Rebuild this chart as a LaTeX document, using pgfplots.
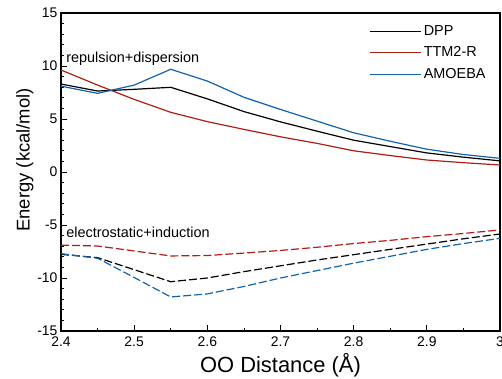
\documentclass[border=0pt]{standalone}
\usepackage{fontspec}
\setmainfont{Liberation Sans}
\usepackage{pgfplots}
\pgfplotsset{compat=1.18}
\definecolor{cred}{RGB}{175,30,20}
\definecolor{cblue}{RGB}{20,100,172}
\begin{document}
\begin{tikzpicture}
\begin{axis}[
  scale only axis,
  width=439bp, height=318bp,
  xmin=2.4, xmax=3.0, ymin=-15, ymax=15,
  xtick={2.4,2.5,2.6,2.7,2.8,2.9,3.0},
  xticklabels={2.4,2.5,2.6,2.7,2.8,2.9,3},
  ytick={-15,-10,-5,0,5,10,15},
  yticklabels={-15,-10,-5,0,5,10,15},
  minor x tick num=1, minor y tick num=4,
  tick align=inside, xtick pos=bottom, ytick pos=left,
  major tick length=6bp, minor tick length=3bp,
  axis line style={line width=1.1bp},
  every tick/.style={line width=0.8bp, black},
  tick label style={font=\fontsize{14}{16}\selectfont},
  xticklabel style={yshift=-2bp},
  /pgf/number format/assume math mode=true,
  xlabel={OO Distance (Å)},
  ylabel={Energy (kcal/mol)},
  xlabel style={font=\fontsize{22}{24}\selectfont},
  ylabel style={font=\fontsize{18.5}{20}\selectfont, at={(ticklabel cs:0.538)}, yshift=-3bp},
  legend style={draw=none, fill=none, at={(rel axis cs:0.703,0.968)}, anchor=north west,
    font=\fontsize{14.5}{16}\selectfont, inner sep=0pt, row sep=6bp},
  legend cell align=left,
  legend image code/.code={\draw[#1, line width=1bp] (0bp,0bp) -- (51bp,0bp);},
  every axis plot/.append style={line width=1.2bp},
]
% solid: repulsion + dispersion
\addplot[black] coordinates {(2.4,8.3) (2.45,7.64) (2.5,7.8) (2.55,7.99) (2.6,6.9) (2.65,5.7) (2.7,4.73) (2.75,3.85) (2.8,3.0) (2.85,2.4) (2.9,1.8) (2.95,1.4) (3.0,1.05)};
\addlegendentry{DPP}
\addplot[cred] coordinates {(2.4,9.62) (2.45,8.2) (2.5,6.85) (2.55,5.63) (2.6,4.75) (2.65,4.02) (2.7,3.32) (2.75,2.7) (2.8,2.0) (2.85,1.55) (2.9,1.13) (2.95,0.88) (3.0,0.66)};
\addlegendentry{TTM2-R}
\addplot[cblue] coordinates {(2.4,8.1) (2.45,7.42) (2.5,8.2) (2.55,9.69) (2.6,8.58) (2.65,7.05) (2.7,5.9) (2.75,4.8) (2.8,3.7) (2.85,2.9) (2.9,2.15) (2.95,1.65) (3.0,1.29)};
\addlegendentry{AMOEBA}
% dashed: electrostatic + induction
\addplot[black, dash pattern=on 8bp off 3bp, forget plot] coordinates {(2.4,-7.77) (2.45,-8.08) (2.55,-10.35) (2.6,-10.0) (2.65,-9.4) (2.7,-8.85) (2.75,-8.3) (2.8,-7.8) (2.85,-7.3) (2.9,-6.8) (2.95,-6.3) (3.0,-5.85)};
\addplot[cred, dash pattern=on 8bp off 3bp, forget plot] coordinates {(2.4,-6.9) (2.45,-6.98) (2.55,-7.92) (2.6,-7.88) (2.65,-7.65) (2.7,-7.4) (2.75,-7.1) (2.8,-6.75) (2.85,-6.45) (2.9,-6.1) (2.95,-5.8) (3.0,-5.47)};
\addplot[cblue, dash pattern=on 8bp off 3bp, forget plot] coordinates {(2.4,-7.7) (2.45,-8.14) (2.5,-9.95) (2.55,-11.79) (2.6,-11.5) (2.65,-10.8) (2.7,-10.0) (2.75,-9.3) (2.8,-8.6) (2.85,-7.95) (2.9,-7.3) (2.95,-6.75) (3.0,-6.26)};
\node[anchor=west, inner sep=0pt, font=\fontsize{14.5}{16}\selectfont] at (axis cs:2.407,10.7) {repulsion+dispersion};
\node[anchor=west, inner sep=0pt, font=\fontsize{14.5}{16}\selectfont] at (axis cs:2.407,-5.66) {electrostatic+induction};
\end{axis}
\pgfresetboundingbox
\path ([xshift=-61bp,yshift=-48bp]current axis.south west) rectangle ([xshift=2bp,yshift=13bp]current axis.north east);
\end{tikzpicture}
\end{document}
